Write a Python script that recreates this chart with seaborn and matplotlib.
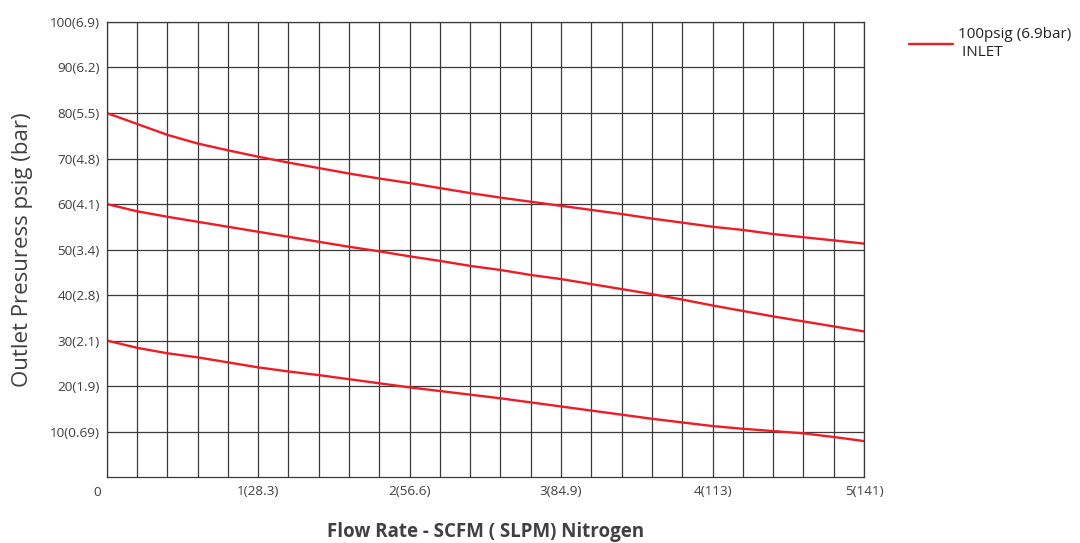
import numpy as np
import pandas as pd
import matplotlib
matplotlib.use('Agg')
import matplotlib.pyplot as plt
import seaborn as sns

# Flow rate (SCFM) sample points, every 0.2
flow_scfm = [0.0, 0.2, 0.4, 0.6, 0.8, 1.0, 1.2, 1.4, 1.6, 1.8, 2.0, 2.2, 2.4,
             2.6, 2.8, 3.0, 3.2, 3.4, 3.6, 3.8, 4.0, 4.2, 4.4, 4.6, 4.8, 5.0]

# Outlet pressure curves (psig)
outlet_80 = [80.0, 77.6, 75.2, 73.3, 71.8, 70.4, 69.1, 67.9, 66.7, 65.6, 64.6, 63.5, 62.4,
             61.4, 60.5, 59.6, 58.7, 57.8, 56.8, 55.9, 55.0, 54.3, 53.4, 52.7, 52.0, 51.3]
outlet_60 = [60.0, 58.4, 57.2, 56.1, 55.0, 53.9, 52.8, 51.7, 50.6, 49.6, 48.5, 47.5, 46.4,
             45.5, 44.4, 43.5, 42.4, 41.3, 40.2, 39.0, 37.7, 36.5, 35.3, 34.2, 33.1, 32.0]
outlet_30 = [30.0, 28.4, 27.2, 26.3, 25.2, 24.1, 23.2, 22.4, 21.5, 20.6, 19.7, 18.9, 18.1,
             17.3, 16.4, 15.5, 14.6, 13.7, 12.8, 12.0, 11.2, 10.6, 10.1, 9.6, 8.8, 7.9]

x_ticks = [0, 1, 2, 3, 4, 5]
x_tick_labels = ['0', '1(28.3)', '2(56.6)', '3(84.9)', '4(113)', '5(141)']
y_ticks = [10, 20, 30, 40, 50, 60, 70, 80, 90, 100]
y_tick_labels = ['10(0.69)', '20(1.9)', '30(2.1)', '40(2.8)', '50(3.4)',
                 '60(4.1)', '70(4.8)', '80(5.5)', '90(6.2)', '100(6.9)']

# Build long-form table for seaborn
df = pd.concat([
    pd.DataFrame({'flow': flow_scfm, 'pressure': outlet_80, 'setting': '80'}),
    pd.DataFrame({'flow': flow_scfm, 'pressure': outlet_60, 'setting': '60'}),
    pd.DataFrame({'flow': flow_scfm, 'pressure': outlet_30, 'setting': '30'}),
])

sns.set_style('white')
plt.rcParams['font.family'] = ['Open Sans', 'DejaVu Sans']

red = '#ee1c25'
grid_col = '#3a3a3a'
text_col = '#404040'

fig = plt.figure(figsize=(10.8, 5.43), dpi=100)
ax = fig.add_axes([0.0988, 0.1215, 0.7012, 0.838])

sns.lineplot(data=df, x='flow', y='pressure', hue='setting', units='setting',
             estimator=None, palette=[red, red, red], linewidth=1.7,
             legend=False, ax=ax)

ax.set_xlim(0, 5)
ax.set_ylim(0, 100)

# grid: every 0.2 SCFM and every 10 psig
ax.set_xticks(np.arange(0, 5.01, 0.2), minor=True)
ax.set_yticks(y_ticks)
ax.set_yticklabels(y_tick_labels, fontsize=9.7, color=text_col)
ax.set_xticks(x_ticks[1:])
ax.set_xticklabels(x_tick_labels[1:], fontsize=9.7, color=text_col)
ax.text(-0.06, -0.02, x_tick_labels[0], transform=ax.get_xaxis_transform(),
        ha='center', va='top', fontsize=9.7, color=text_col)
ax.grid(which='both', axis='x', color=grid_col, linewidth=0.9)
ax.grid(which='major', axis='y', color=grid_col, linewidth=0.9)
ax.tick_params(which='both', length=0)
ax.tick_params(axis='x', pad=6)
ax.tick_params(axis='y', pad=5)
ax.set_axisbelow(True)
for s in ax.spines.values():
    s.set_color(grid_col)
    s.set_linewidth(0.9)

ax.set_xlabel('Flow Rate - SCFM ( SLPM) Nitrogen', fontsize=13.5, fontweight='bold',
              color=text_col, labelpad=17)
ax.set_ylabel('Outlet Presuress psig (bar)', fontsize=16, color=text_col, labelpad=12)

# legend outside the plot
h = ax.get_lines()[0]
fig.legend([h], ['100psig (6.9bar)\n INLET'], loc='upper left',
           bbox_to_anchor=(0.829, 0.975), frameon=False, fontsize=11,
           handlelength=2.9, handletextpad=0.3, labelcolor='#222222',
           labelspacing=0.1)

plt.savefig('out.png', dpi=100)
